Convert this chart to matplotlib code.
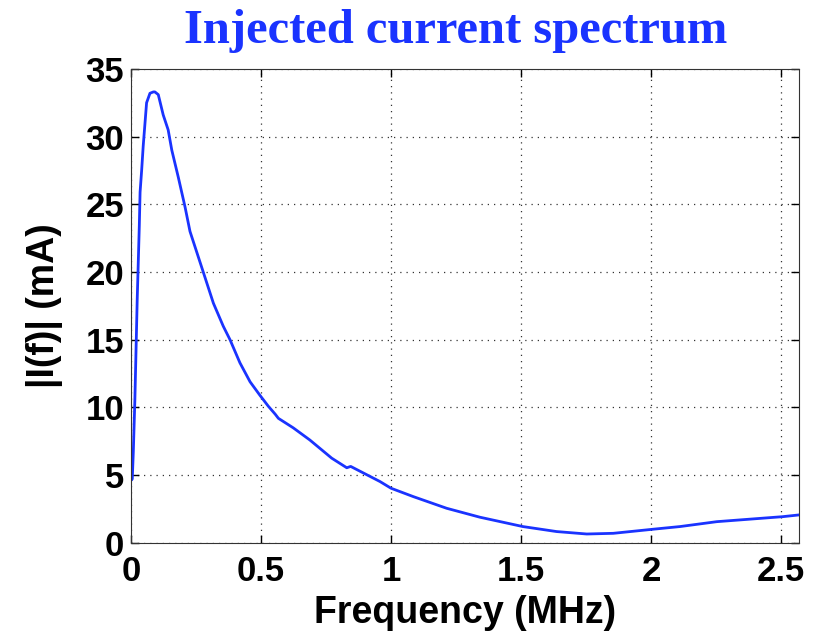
import matplotlib.pyplot as plt

# spectrum (MHz, mA)
freq_mhz = [0.004, 0.005, 0.009, 0.015, 0.024, 0.032, 0.035, 0.041, 0.047, 0.060,
            0.073, 0.086, 0.092, 0.105, 0.124, 0.143, 0.157, 0.182, 0.195, 0.208,
            0.227, 0.278, 0.317, 0.355, 0.381, 0.419, 0.458, 0.496, 0.528,
            0.555, 0.567, 0.624, 0.688, 0.772, 0.83, 0.845, 0.958, 1.0, 1.086,
            1.214, 1.342, 1.507, 1.637, 1.753, 1.855, 2.007, 2.112, 2.253, 2.507,
            2.57]
current_ma = [4.7, 4.73, 6.74, 10.6, 18.0, 23.4, 25.9, 27.5, 29.3, 32.5,
              33.2, 33.3, 33.3, 33.1, 31.6, 30.5, 29.0, 27.0, 25.9, 24.8,
              23.0, 20.0, 17.7, 16.0, 15.0, 13.3, 11.9, 10.9, 10.1,
              9.5, 9.2, 8.5, 7.6, 6.26, 5.55, 5.65, 4.53, 4.04, 3.42,
              2.56, 1.90, 1.21, 0.84, 0.66, 0.71, 1.01, 1.21, 1.57, 1.94,
              2.07]

xticks = [0, 0.5, 1, 1.5, 2, 2.5]
xtick_labels = ['0', '0.5', '1', '1.5', '2', '2.5']
yticks = [0, 5, 10, 15, 20, 25, 30, 35]

fig = plt.figure(figsize=(8.29, 6.38), dpi=100)
ax = fig.add_axes([0.158, 0.149, 0.806, 0.743])

ax.plot(freq_mhz, current_ma, color='#1a33ff', linewidth=2)

ax.set_xlim(0, 2.57)
ax.set_ylim(0, 35)
ax.set_xticks(xticks)
ax.set_xticklabels(xtick_labels)
ax.set_yticks(yticks)

ax.grid(True, linestyle=(0, (1, 4)), color='#333333', linewidth=0.9)
ax.tick_params(direction='in', top=True, right=True, length=6, width=1,
               labelsize=25)
ax.tick_params(axis='x', pad=9)
ax.tick_params(axis='y', pad=5)
for lbl in ax.get_xticklabels() + ax.get_yticklabels():
    lbl.set_fontfamily('Liberation Sans')
    lbl.set_fontweight('bold')
for sp in ax.spines.values():
    sp.set_color('#333333')

ax.set_xlabel('Frequency (MHz)', fontsize=27, fontfamily='Liberation Sans',
              fontweight='bold', labelpad=5)
ax.set_ylabel('|I(f)| (mA)', fontsize=27, fontfamily='Liberation Sans',
              fontweight='bold', labelpad=16)

fig.text(0.55, 0.951, 'Injected current spectrum', ha='center', va='center',
         fontsize=35, fontfamily='Liberation Serif', fontweight='bold',
         color='#1a33ff')

fig.savefig('out.png', dpi=100)
